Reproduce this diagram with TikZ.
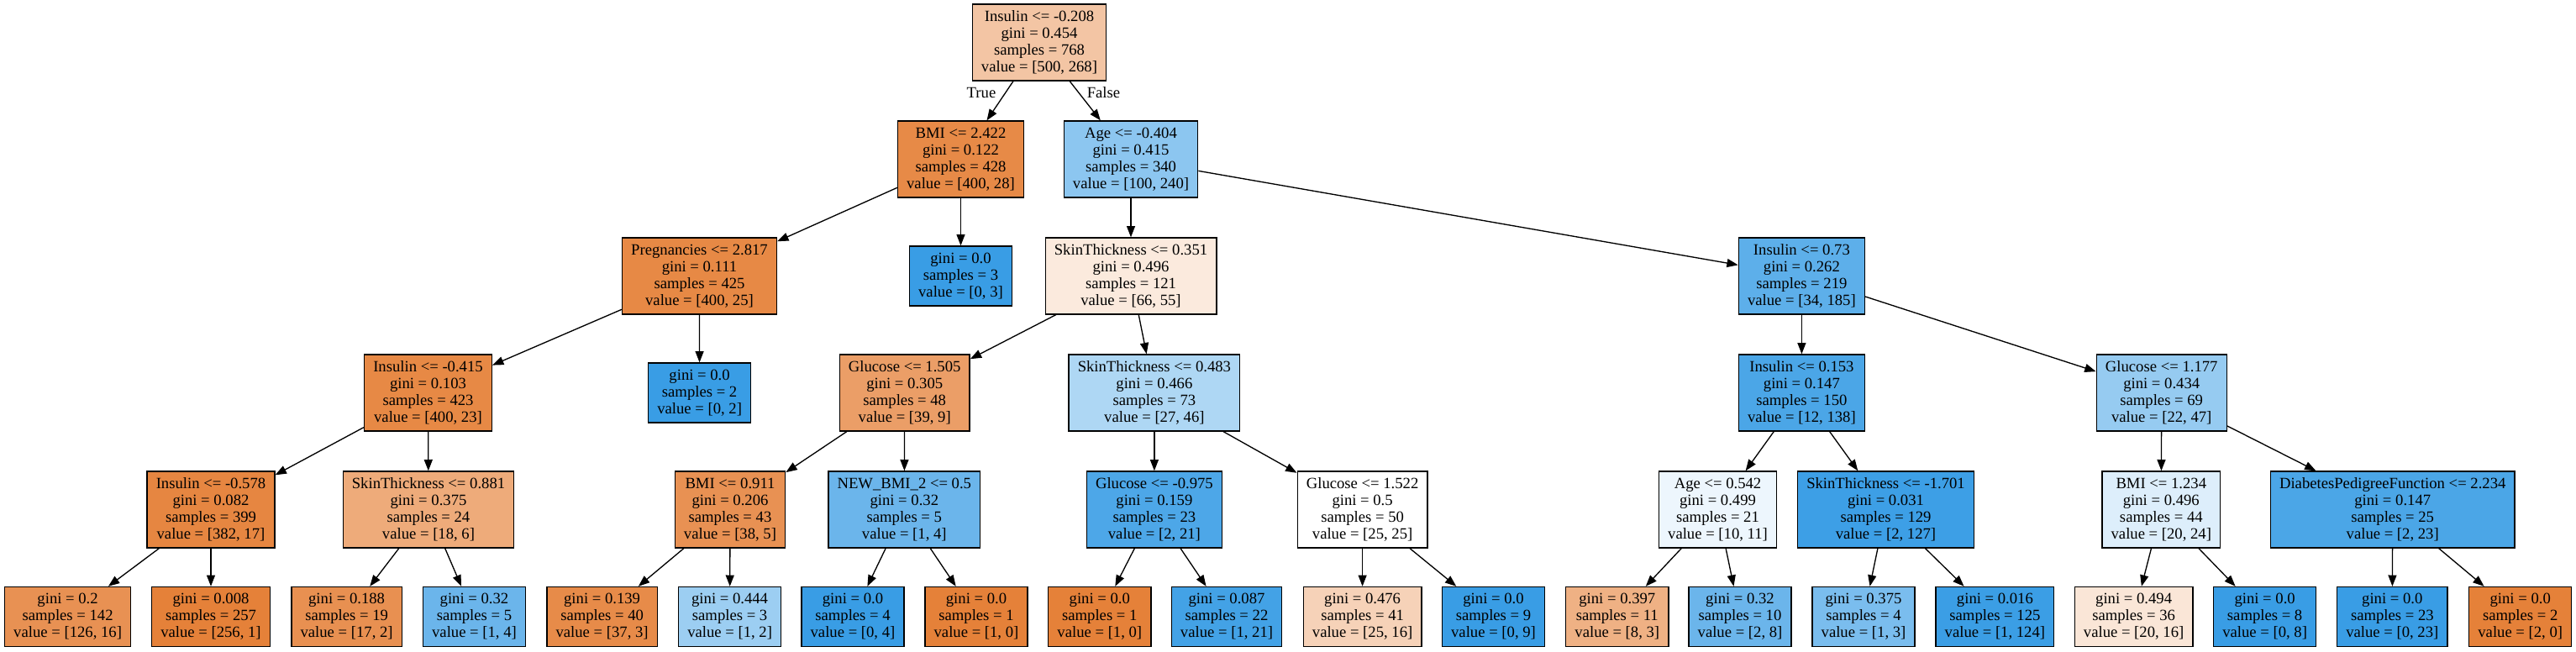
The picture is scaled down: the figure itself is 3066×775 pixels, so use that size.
\documentclass[tikz,border=0pt]{standalone}
\usepackage[usenames,dvipsnames]{xcolor}
\usepackage{fontspec}
\setmainfont{Liberation Serif}
\usepackage{tikz}
\usetikzlibrary{arrows.meta}

\definecolor{negcls}{RGB}{229,129,57}
\definecolor{poscls}{RGB}{57,157,229}

\tikzset{
    splitbox/.style={draw=black, line width=1pt, rectangle, align=center,
        inner xsep=8pt, inner ysep=0pt, minimum height=68.25pt,
        font=\fontsize{14}{15}\selectfont},
    leafbox/.style={splitbox, minimum height=53.25pt},
    link/.style={line width=1pt, -{Triangle[length=10pt,width=7.5pt]}},
    branch/.style={font=\fontsize{14}{15}\selectfont, inner sep=0pt}
}

\begin{document}
\begin{tikzpicture}[x=0.75pt, y=-0.75pt]
    \useasboundingbox (0,0) rectangle (3066,775);

    \node[splitbox, fill=negcls!46] (v1) at (1237,50.5) {Insulin <= -0.208\\gini = 0.454\\samples = 768\\value = [500, 268]};
    \node[splitbox, fill=negcls!93] (v2) at (1143.5,189.5) {BMI <= 2.422\\gini = 0.122\\samples = 428\\value = [400, 28]};
    \node[splitbox, fill=poscls!58] (v3) at (1346,189.5) {Age <= -0.404\\gini = 0.415\\samples = 340\\value = [100, 240]};

    \node[splitbox, fill=negcls!94] (v4) at (832.5,328.5) {Pregnancies <= 2.817\\gini = 0.111\\samples = 425\\value = [400, 25]};
    \node[leafbox, fill=poscls] (v5) at (1143.5,328.5) {gini = 0.0\\samples = 3\\value = [0, 3]};
    \node[splitbox, fill=negcls!17] (v6) at (1346,328.5) {SkinThickness <= 0.351\\gini = 0.496\\samples = 121\\value = [66, 55]};
    \node[splitbox, fill=poscls!82] (v7) at (2144.4,328.5) {Insulin <= 0.73\\gini = 0.262\\samples = 219\\value = [34, 185]};

    \node[splitbox, fill=negcls!94] (v8) at (509.5,467.5) {Insulin <= -0.415\\gini = 0.103\\samples = 423\\value = [400, 23]};
    \node[leafbox, fill=poscls] (v9) at (832.6,467.5) {gini = 0.0\\samples = 2\\value = [0, 2]};
    \node[splitbox, fill=negcls!77] (v10) at (1076.7,467.5) {Glucose <= 1.505\\gini = 0.305\\samples = 48\\value = [39, 9]};
    \node[splitbox, fill=poscls!41] (v11) at (1373.9,467.5) {SkinThickness <= 0.483\\gini = 0.466\\samples = 73\\value = [27, 46]};
    \node[splitbox, fill=poscls!91] (v12) at (2144.4,467.5) {Insulin <= 0.153\\gini = 0.147\\samples = 150\\value = [12, 138]};
    \node[splitbox, fill=poscls!53] (v13) at (2572.7,467.5) {Glucose <= 1.177\\gini = 0.434\\samples = 69\\value = [22, 47]};

    \node[splitbox, fill=negcls!96] (v14) at (251,606.5) {Insulin <= -0.578\\gini = 0.082\\samples = 399\\value = [382, 17]};
    \node[splitbox, fill=negcls!67] (v15) at (510,606.5) {SkinThickness <= 0.881\\gini = 0.375\\samples = 24\\value = [18, 6]};
    \node[splitbox, fill=negcls!87] (v16) at (869,606.5) {BMI <= 0.911\\gini = 0.206\\samples = 43\\value = [38, 5]};
    \node[splitbox, fill=poscls!75] (v17) at (1076.3,606.5) {NEW\_BMI\_2 <= 0.5\\gini = 0.32\\samples = 5\\value = [1, 4]};
    \node[splitbox, fill=poscls!90] (v18) at (1373.9,606.5) {Glucose <= -0.975\\gini = 0.159\\samples = 23\\value = [2, 21]};
    \node[splitbox, fill=white] (v19) at (1621.6,606.5) {Glucose <= 1.522\\gini = 0.5\\samples = 50\\value = [25, 25]};
    \node[splitbox, fill=poscls!9] (v20) at (2044.5,606.5) {Age <= 0.542\\gini = 0.499\\samples = 21\\value = [10, 11]};
    \node[splitbox, fill=poscls!98] (v21) at (2244.5,606.5) {SkinThickness <= -1.701\\gini = 0.031\\samples = 129\\value = [2, 127]};
    \node[splitbox, fill=poscls!17] (v22) at (2572.3,606.5) {BMI <= 1.234\\gini = 0.496\\samples = 44\\value = [20, 24]};
    \node[splitbox, fill=poscls!91] (v23) at (2847.7,606.5) {DiabetesPedigreeFunction <= 2.234\\gini = 0.147\\samples = 25\\value = [2, 23]};

    \node[leafbox, fill=negcls!87] (v24) at (80.6,734) {gini = 0.2\\samples = 142\\value = [126, 16]};
    \node[leafbox, fill=negcls] (v25) at (251,734) {gini = 0.008\\samples = 257\\value = [256, 1]};
    \node[leafbox, fill=negcls!88] (v26) at (412.6,734) {gini = 0.188\\samples = 19\\value = [17, 2]};
    \node[leafbox, fill=poscls!75] (v27) at (564.5,734) {gini = 0.32\\samples = 5\\value = [1, 4]};
    \node[leafbox, fill=negcls!92] (v28) at (716.6,734) {gini = 0.139\\samples = 40\\value = [37, 3]};
    \node[leafbox, fill=poscls!50] (v29) at (868.6,734) {gini = 0.444\\samples = 3\\value = [1, 2]};
    \node[leafbox, fill=poscls] (v30) at (1015,734) {gini = 0.0\\samples = 4\\value = [0, 4]};
    \node[leafbox, fill=negcls] (v31) at (1162,734) {gini = 0.0\\samples = 1\\value = [1, 0]};
    \node[leafbox, fill=negcls] (v32) at (1308.8,734) {gini = 0.0\\samples = 1\\value = [1, 0]};
    \node[leafbox, fill=poscls!95] (v33) at (1460,734) {gini = 0.087\\samples = 22\\value = [1, 21]};
    \node[leafbox, fill=negcls!36] (v34) at (1621.6,734) {gini = 0.476\\samples = 41\\value = [25, 16]};
    \node[leafbox, fill=poscls] (v35) at (1777.5,734) {gini = 0.0\\samples = 9\\value = [0, 9]};
    \node[leafbox, fill=negcls!62] (v36) at (1924.8,734) {gini = 0.397\\samples = 11\\value = [8, 3]};
    \node[leafbox, fill=poscls!75] (v37) at (2071,734) {gini = 0.32\\samples = 10\\value = [2, 8]};
    \node[leafbox, fill=poscls!67] (v38) at (2218,734) {gini = 0.375\\samples = 4\\value = [1, 3]};
    \node[leafbox, fill=poscls!99] (v39) at (2374.4,734) {gini = 0.016\\samples = 125\\value = [1, 124]};
    \node[leafbox, fill=negcls!20] (v40) at (2539.6,734) {gini = 0.494\\samples = 36\\value = [20, 16]};
    \node[leafbox, fill=poscls] (v41) at (2695.6,734) {gini = 0.0\\samples = 8\\value = [0, 8]};
    \node[leafbox, fill=poscls] (v42) at (2847.3,734) {gini = 0.0\\samples = 23\\value = [0, 23]};
    \node[leafbox, fill=negcls] (v43) at (2999.7,734) {gini = 0.0\\samples = 2\\value = [2, 0]};

    \node[branch] (yes) at (1168,110) {True};
    \node[branch] (no) at (1313.5,110) {False};

    \draw[link] (v1) -- (v2);
    \draw[link] (v1) -- (v3);
    \draw[link] (v2) -- (v4);
    \draw[link] (v2) -- (v5);
    \draw[link] (v3) -- (v6);
    \draw[link] (v3) -- (v7);
    \draw[link] (v4) -- (v8);
    \draw[link] (v4) -- (v9);
    \draw[link] (v6) -- (v10);
    \draw[link] (v6) -- (v11);
    \draw[link] (v7) -- (v12);
    \draw[link] (v7) -- (v13);
    \draw[link] (v8) -- (v14);
    \draw[link] (v8) -- (v15);
    \draw[link] (v10) -- (v16);
    \draw[link] (v10) -- (v17);
    \draw[link] (v11) -- (v18);
    \draw[link] (v11) -- (v19);
    \draw[link] (v12) -- (v20);
    \draw[link] (v12) -- (v21);
    \draw[link] (v13) -- (v22);
    \draw[link] (v13) -- (v23);
    \draw[link] (v14) -- (v24);
    \draw[link] (v14) -- (v25);
    \draw[link] (v15) -- (v26);
    \draw[link] (v15) -- (v27);
    \draw[link] (v16) -- (v28);
    \draw[link] (v16) -- (v29);
    \draw[link] (v17) -- (v30);
    \draw[link] (v17) -- (v31);
    \draw[link] (v18) -- (v32);
    \draw[link] (v18) -- (v33);
    \draw[link] (v19) -- (v34);
    \draw[link] (v19) -- (v35);
    \draw[link] (v20) -- (v36);
    \draw[link] (v20) -- (v37);
    \draw[link] (v21) -- (v38);
    \draw[link] (v21) -- (v39);
    \draw[link] (v22) -- (v40);
    \draw[link] (v22) -- (v41);
    \draw[link] (v23) -- (v42);
    \draw[link] (v23) -- (v43);
\end{tikzpicture}
\end{document}
